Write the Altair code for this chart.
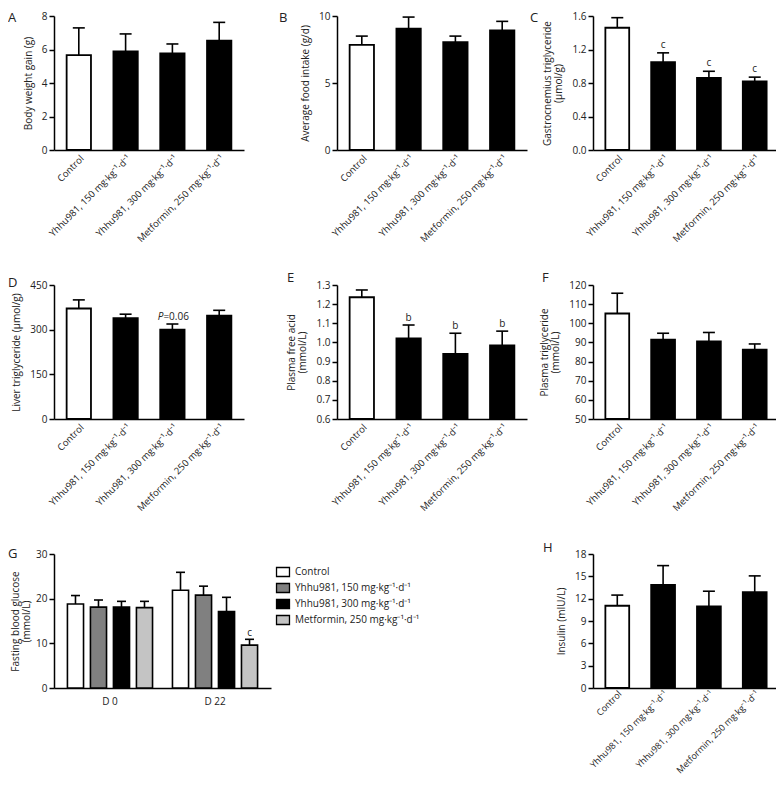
import altair as alt
import pandas as pd

groups = ["Control", "Yhhu981, 150 mg·kg⁻¹·d⁻¹", "Yhhu981, 300 mg·kg⁻¹·d⁻¹", "Metformin, 250 mg·kg⁻¹·d⁻¹"]
days = ["D 0", "D 22"]

a_mean = [5.67, 5.89, 5.77, 6.53]
a_sd = [1.62, 1.04, 0.56, 1.09]
b_mean = [7.84, 9.05, 8.05, 8.92]
b_sd = [0.66, 0.87, 0.45, 0.68]
c_mean = [1.46, 1.05, 0.86, 0.82]
c_sd = [0.12, 0.11, 0.08, 0.05]
d_mean = [371, 339, 300, 347]
d_sd = [29, 13, 19, 18]
e_mean = [1.236, 1.021, 0.940, 0.984]
e_sd = [0.038, 0.070, 0.108, 0.075]
f_mean = [105.1, 91.4, 90.5, 86.2]
f_sd = [10.6, 3.4, 4.7, 3.0]
g_d0_mean = [18.8, 18.1, 18.1, 18.0]
g_d0_sd = [1.9, 1.6, 1.3, 1.4]
g_d22_mean = [21.9, 20.8, 17.1, 9.6]
g_d22_sd = [4.0, 2.0, 3.2, 1.3]
h_mean = [11.05, 13.86, 10.96, 12.88]
h_sd = [1.43, 2.58, 2.04, 2.18]

c_notes = ["", "c", "c", "c"]
e_notes = ["", "b", "b", "b"]
d_notes_it = ["", "", "P", ""]
d_notes = ["", "", "=0.06", ""]
g_notes = ["", "", "", "", "", "", "", "c"]

a_ticks = [0, 2, 4, 6, 8]
b_ticks = [0, 5, 10]
c_ticks = [0.0, 0.4, 0.8, 1.2, 1.6]
d_ticks = [0, 150, 300, 450]
e_ticks = [0.6, 0.7, 0.8, 0.9, 1.0, 1.1, 1.2, 1.3]
f_ticks = [50, 60, 70, 80, 90, 100, 110, 120]
g_ticks = [0, 10, 20, 30]
h_ticks = [0, 3, 6, 9, 12, 15, 18]

g_fills = ["white", "#808080", "black", "#c4c4c4"]

FONT = "Open Sans"
INK = "#222222"
PW, PH = 190, 134


def letter_layer(letter, dx, dy):
    return alt.Chart(pd.DataFrame({"t": [letter]})).mark_text(
        align="left", baseline="top", fontSize=13, font=FONT, color=INK
    ).encode(x=alt.value(dx), y=alt.value(dy), text="t:N")


def bar_panel(mean, sd, dom, ticks, fmt, title, letter, lx, ly, notes=None,
              notes_it=None, width=PW, note_dy=-4, xfs=9.5, xpad=3):
    upper = [round(m + s, 4) for m, s in zip(mean, sd)]
    df = pd.DataFrame({
        "group": groups, "mean": mean, "upper": upper,
        "base": [dom[0]] * 4,
        "note": notes if notes else [""] * 4,
        "note_it": notes_it if notes_it else [""] * 4,
    })
    x = alt.X("group:N", sort=groups, title=None,
              scale=alt.Scale(paddingInner=0.48, paddingOuter=0.27),
              axis=alt.Axis(labelAngle=-45, ticks=False, labelPadding=xpad, labelFontSize=xfs))
    ysc = alt.Scale(domain=dom, nice=False, zero=False)
    yax = alt.Axis(values=ticks, format=fmt, title=title)
    base = alt.Chart(df)
    err = base.mark_rule(color="black", strokeWidth=1.6).encode(
        x=x, y=alt.Y("mean:Q", scale=ysc, axis=yax), y2="upper:Q")
    cap = base.mark_tick(color="black", thickness=1.6, size=12, opacity=1).encode(
        x=x, y=alt.Y("upper:Q", scale=ysc, axis=yax))
    bars = base.mark_bar(stroke="black", strokeWidth=1.8).encode(
        x=x, y=alt.Y("mean:Q", scale=ysc, axis=yax), y2="base:Q",
        fill=alt.condition("datum.group == 'Control'", alt.value("white"), alt.value("black")))
    layers = [err, cap, bars]
    if notes_it:
        layers.append(base.mark_text(align="right", baseline="alphabetic", dx=-9, dy=note_dy,
                                     fontSize=10, font=FONT, color=INK, fontStyle="italic").encode(
            x=x, y=alt.Y("upper:Q", scale=ysc, axis=yax), text="note_it:N"))
        layers.append(base.mark_text(align="left", baseline="alphabetic", dx=-9, dy=note_dy,
                                     fontSize=10, font=FONT, color=INK).encode(
            x=x, y=alt.Y("upper:Q", scale=ysc, axis=yax), text="note:N"))
    elif notes:
        layers.append(base.mark_text(align="center", baseline="alphabetic", dy=note_dy,
                                     fontSize=10, font=FONT, color=INK).encode(
            x=x, y=alt.Y("upper:Q", scale=ysc, axis=yax), text="note:N"))
    layers.append(letter_layer(letter, lx, ly))
    return alt.layer(*layers).properties(width=width, height=PH)


pA = bar_panel(a_mean, a_sd, [0, 8], a_ticks, "d", "Body weight gain (g)", "A", -46, -4)
pB = bar_panel(b_mean, b_sd, [0, 10], b_ticks, "d", "Average food intake (g/d)", "B", -58, -4)
pC = bar_panel(c_mean, c_sd, [0, 1.6], c_ticks, ".1f",
               ["Gastrocnemius triglyceride", "(μmol/g)"], "C", -63, -4,
               notes=c_notes, width=186, note_dy=-5)
pD = bar_panel(d_mean, d_sd, [0, 450], d_ticks, "d", "Liver triglyceride (μmol/g)", "D", -46, -8,
               notes=d_notes, notes_it=d_notes_it, note_dy=-4)
pE = bar_panel(e_mean, e_sd, [0.6, 1.3], e_ticks, ".1f", ["Plasma free acid", "(mmol/L)"], "E", -50, -13,
               notes=e_notes, note_dy=-4)
pF = bar_panel(f_mean, f_sd, [50, 120], f_ticks, "d", ["Plasma triglyceride", "(mmol/L)"], "F", -51, -13,
               width=186)
pH = bar_panel(h_mean, h_sd, [0, 18], h_ticks, "d", "Insulin (mIU/L)", "H", -50, -12, width=186,
               xfs=9, xpad=1)

# Panel G (grouped)
g_upper = [round(m + s, 3) for m, s in zip(g_d0_mean + g_d22_mean, g_d0_sd + g_d22_sd)]
g_df = pd.DataFrame({
    "day": [d for d in days for _ in groups],
    "group": groups * 2,
    "mean": g_d0_mean + g_d22_mean,
    "upper": g_upper,
    "note": g_notes,
})
gx = alt.X("day:N", sort=days, title=None,
           scale=alt.Scale(paddingInner=0.124, paddingOuter=0.095),
           axis=alt.Axis(labelAngle=0, ticks=False, labelPadding=8))
gxo = alt.XOffset("group:N", sort=groups, scale=alt.Scale(paddingInner=0.3, paddingOuter=0.15))
gysc = alt.Scale(domain=[0, 30], nice=False)
gyax = alt.Axis(values=g_ticks, format="d", title=["Fasting blood glucose", "(mmol/L)"], titlePadding=4)
gbase = alt.Chart(g_df)
g_err = gbase.mark_rule(color="black", strokeWidth=1.6).encode(
    x=gx, xOffset=gxo, y=alt.Y("mean:Q", scale=gysc, axis=gyax), y2="upper:Q")
g_cap = gbase.mark_tick(color="black", thickness=1.6, size=9, opacity=1).encode(
    x=gx, xOffset=gxo, y=alt.Y("upper:Q", scale=gysc, axis=gyax))
g_bars = gbase.mark_bar(stroke="black", strokeWidth=1.6).encode(
    x=gx, xOffset=gxo, y=alt.Y("mean:Q", scale=gysc, axis=gyax),
    fill=alt.Fill("group:N", sort=groups, scale=alt.Scale(domain=groups, range=g_fills),
                  legend=alt.Legend(title=None, orient="none", legendX=222, legendY=11,
                                    symbolType="M-1.08,-0.75H1.08V0.75H-1.08Z", symbolSize=144,
                                    symbolStrokeColor="black", symbolStrokeWidth=1.3,
                                    labelFont=FONT, labelFontSize=10, labelColor=INK,
                                    rowPadding=0, padding=0, labelOffset=5)))
g_txt = gbase.mark_text(align="center", baseline="alphabetic", dy=-3, fontSize=10, font=FONT, color=INK).encode(
    x=gx, xOffset=gxo, y=alt.Y("upper:Q", scale=gysc, axis=gyax), text="note:N")
pG = alt.layer(g_err, g_cap, g_bars, g_txt, letter_layer("G", -46, -6)).properties(width=217, height=PH)

spacer = alt.Chart(pd.DataFrame({"v": [0]})).mark_point(opacity=0).encode(
    x=alt.value(0), y=alt.value(0)).properties(width=163, height=PH)

chart = alt.concat(pA, pB, pC, pD, pE, pF, pG, spacer, pH, columns=3,
                   spacing={"row": 135, "column": 66}, bounds="flush", align="none")
chart = chart.resolve_scale(fill="independent").resolve_legend(fill="independent").properties(
    autosize=alt.AutoSizeParams(type="none"),
    padding={"left": 46, "top": 8, "right": 722, "bottom": 765}, background="white"
).configure_axis(
    domainColor="black", domainWidth=1.5, tickColor="black", tickWidth=1.5, tickSize=5,
    labelFont=FONT, labelFontSize=10, labelColor=INK, labelPadding=2,
    titleFont=FONT, titleFontSize=10, titleFontWeight="normal", titleColor=INK,
    titlePadding=8, titleLineHeight=11, grid=False
).configure_view(strokeWidth=0)

chart.save("out.html", embed_options={"renderer": "svg", "actions": False})
